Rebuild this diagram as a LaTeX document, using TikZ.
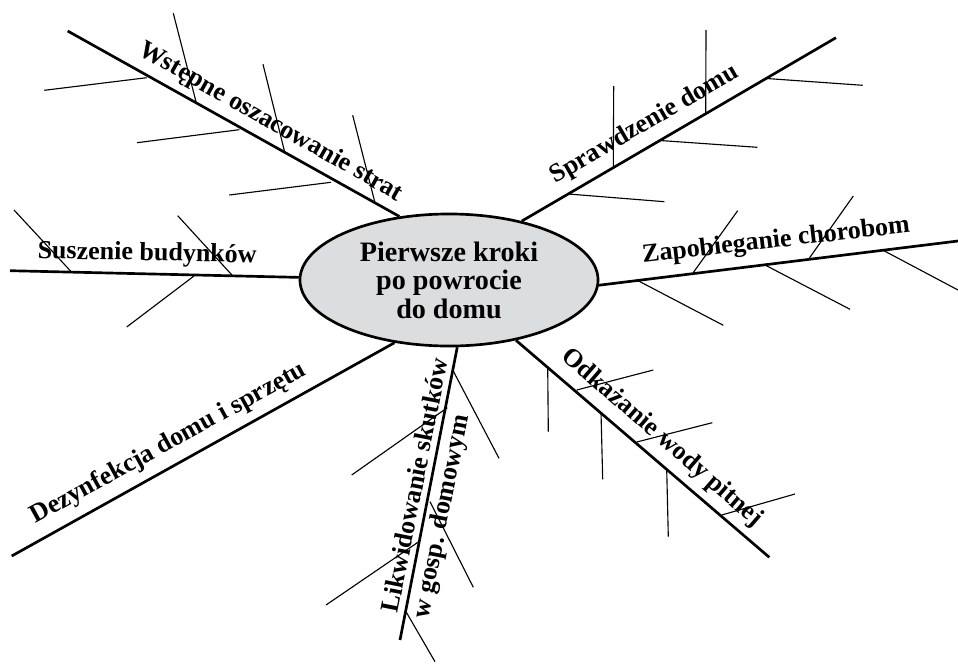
\documentclass[tikz,border=0pt]{standalone}
\usepackage{fontspec}
\setmainfont{Liberation Serif}
\usetikzlibrary{shapes.geometric,backgrounds}
\definecolor{hubgray}{RGB}{220,221,223}
\begin{document}
\begin{tikzpicture}[x=0.025cm,y=-0.025cm,
  branch/.style={line width=1.9pt},
  rib/.style={line width=0.8pt},
  lbl/.style={font=\fontsize{18.5}{22}\selectfont\bfseries, inner sep=0pt, anchor=base},
  hub/.style={ellipse, draw, line width=1.9pt, fill=hubgray, minimum width=7.45cm,
    minimum height=3.3cm, inner sep=0pt, align=center,
    font=\fontsize{20}{20.3}\selectfont\bfseries}]
\useasboundingbox (0,0) rectangle (958,664);

\node[hub] (E) at (449,280) {Pierwsze kroki\\po powrocie\\do domu};

\coordinate (w0) at (67.7,31);
\coordinate (s0) at (836,37.7);
\coordinate (b0) at (10,270.7);
\coordinate (z0) at (958,241);
\coordinate (d0) at (11.7,556);
\coordinate (l0) at (400,640);
\coordinate (o0) at (769.3,557.3);

\begin{scope}[on background layer]
  \draw[branch] (w0) -- (E.128.8);
  \draw[branch] (s0) -- (E.39.4);
  \draw[branch] (b0) -- (E.179.3);
  \draw[branch] (z0) -- (E.358.3);
  \draw[branch] (d0) -- (E.229.7);
  \draw[branch] (l0) -- (E.277.5);
  \draw[branch] (o0) -- (E.318.7);
\end{scope}

% ribs: Wstepne
\draw[rib] (44.3,90.3) -- (146.7,77.7);
\draw[rib] (137,142.7) -- (239.3,129.7);
\draw[rib] (229.3,195) -- (331,182.3);
\draw[rib] (173.3,13.3) -- (196,101.7);
\draw[rib] (263,64.3) -- (285,153.3);
\draw[rib] (352.7,115.3) -- (375.3,204);
% ribs: Sprawdzenie
\draw[rib] (613.7,86) -- (613.3,166.7);
\draw[rib] (706,30) -- (705.7,113.3);
\draw[rib] (568.3,194) -- (664.3,201.7);
\draw[rib] (660,140.5) -- (757.3,147.3);
\draw[rib] (766.7,78.5) -- (862.7,85.3);
% ribs: Suszenie
\draw[rib] (14,210) -- (71,271.5);
\draw[rib] (177.7,215.7) -- (233.3,276.5);
\draw[rib] (126.7,327) -- (194,276);
% ribs: Zapobieganie
\draw[rib] (693.3,272.5) -- (737.7,210.7);
\draw[rib] (809,258.6) -- (853.3,196);
\draw[rib] (636.7,280) -- (723.3,325.3);
\draw[rib] (765,265) -- (850,309.3);
\draw[rib] (883.5,250.5) -- (958,290);
% ribs: Odkazanie
\draw[rib] (547.7,366.2) -- (548.3,431.7);
\draw[rib] (601,412.5) -- (602.7,479.3);
\draw[rib] (666.7,469) -- (668.3,536.7);
\draw[rib] (576.7,390) -- (653.3,370);
\draw[rib] (636.7,442) -- (712.3,422.7);
\draw[rib] (721.7,515) -- (795,494);
% ribs: Likwidowanie
\draw[rib] (453.5,371.5) -- (499,458.3);
\draw[rib] (447.3,407.7) -- (351.7,475);
\draw[rib] (430,501.7) -- (473.3,587.3);
\draw[rib] (418.3,542) -- (326,605);
\draw[rib] (406,611.7) -- (435,661.7);

% labels
\node[lbl, rotate=-29.5] (tw) at (267.3,127.8) {Wstępne oszacowanie strat};
\node[lbl, rotate=30.2] (ts) at (648,130) {Sprawdzenie domu};
\node[lbl, rotate=-1.2] (tb) at (147,260.5) {Suszenie budynków};
\node[lbl, rotate=6.5] (tz) at (776.7,247.5) {Zapobieganie chorobom};
\node[lbl, rotate=28.8] (td) at (171.7,449.2) {Dezynfekcja domu i sprzętu};
\node[lbl, rotate=-40.8] (to) at (657.8,442.8) {Odkażanie wody pitnej};
\node[lbl, rotate=78.8, anchor=west, align=left] (tl) at (407,615.4)
  {Likwidowanie skutków\\w gosp. domowym};
\end{tikzpicture}
\end{document}
